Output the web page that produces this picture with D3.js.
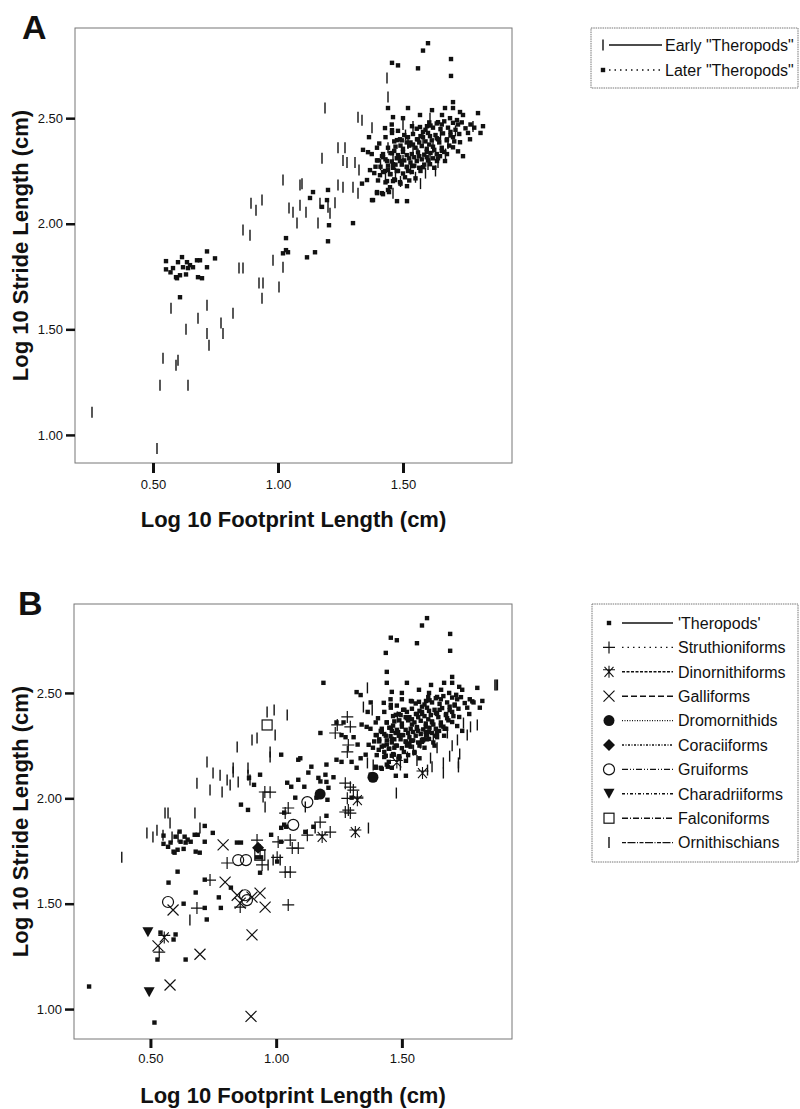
<!DOCTYPE html>
<html>
<head>
<meta charset="utf-8">
<script src="https://cdn.jsdelivr.net/npm/d3@7"></script>
<style>
  body { margin: 0; background: #fff; }
  text { font-family: "Liberation Sans", Arial, Helvetica, sans-serif; fill: #111; }
</style>
</head>
<body>
<div id="chart-area"></div>
<script>
// values: [log10 footprint length, log10 stride length]

let earlyTheropods = [
    [0.256,1.107],[0.516,0.936],[0.528,1.235],[0.64,1.235],[0.54,1.363],[0.592,1.33],[0.60,1.354],
    [0.572,1.60],[0.632,1.50],[0.716,1.614],[0.68,1.553],[0.716,1.48],[0.724,1.425],[0.772,1.53],
    [0.78,1.48],[0.82,1.576],[0.844,1.79],[0.86,1.79],[0.924,1.72],[0.94,1.72],[0.936,1.647],
    [0.98,1.827],[1.004,1.70],[1.02,1.794],[0.86,1.97],[0.888,1.945],[0.892,2.097],[0.912,2.064],
    [0.936,2.112],[1.044,2.074],[1.06,2.055],[1.076,2.003],[1.088,2.088],[1.112,2.055],[1.16,2.003],
    [1.168,2.097],[1.20,2.078],[1.208,2.05],[1.228,2.10],[1.24,2.183],[1.26,2.173],[1.30,2.173],
    [1.32,2.145],[1.02,2.207],[1.088,2.183],[1.188,2.548],[1.32,2.504],[1.336,2.49],[1.24,2.36],
    [1.268,2.36],[1.176,2.31],[1.096,2.19],[1.26,2.30],[1.276,2.29],[1.308,2.29],[1.324,2.255],
    [1.376,2.455],[1.436,2.69],[1.44,2.60],[1.50,2.47],[1.54,2.46],[1.608,2.50],[1.78,2.46],
    [1.608,2.315],[1.46,2.145],
    [1.50,2.30],[1.53,2.26],[1.56,2.33],[1.60,2.28],[1.62,2.36],[1.47,2.24],[1.44,2.36],[1.58,2.40],
    [1.65,2.42],[1.52,2.38],[1.49,2.20],[1.41,2.28],[1.55,2.22],[1.68,2.38],[1.57,2.19],[1.63,2.25],
    [1.46,2.32],[1.54,2.35],[1.59,2.24],[1.67,2.33],[1.43,2.22],[1.51,2.42],[1.71,2.44],[1.64,2.29]
];

let laterTheropods = [
    [1.456,2.762],[1.48,2.75],[1.56,2.736],[1.58,2.82],[1.60,2.855],[1.692,2.78],[1.692,2.70],
    [1.70,2.576],[1.80,2.524],[1.82,2.462],
    [0.552,1.823],[0.552,1.784],[0.58,1.79],[0.592,1.747],[0.60,1.818],[0.616,1.842],[0.62,1.794],
    [0.636,1.818],[0.648,1.804],[0.66,1.794],[0.676,1.827],[0.688,1.827],[0.68,1.747],[0.696,1.742],
    [0.716,1.794],[0.716,1.869],[0.748,1.836],[0.632,1.76],[0.608,1.756],[0.596,1.742],[0.608,1.652],
    [0.57,1.77],[0.64,1.79],
    [1.032,1.932],[1.04,1.865],[1.032,1.875],[1.02,1.86],[1.116,1.841],[1.148,1.865],[1.20,1.917],
    [1.204,1.993],[1.30,2.003],[1.376,2.112],[1.396,2.15],[1.44,2.16],[1.128,2.122],[1.14,2.15],
    [1.176,2.08],[1.20,2.16],[1.196,2.112],[1.356,2.207],[1.336,2.19],[1.368,2.254],[1.36,2.339],
    [1.364,2.41],[1.34,2.35],[1.396,2.36],[1.456,2.43],[1.476,2.396],[1.456,2.334],[1.42,2.315],
    [1.396,2.30],[1.408,2.23],[1.468,2.207],[1.448,2.173],[1.396,2.145],[1.38,2.112],[1.416,2.145],
    [1.44,2.548],[1.52,2.548],[1.46,2.505],[1.568,2.515],[1.616,2.538],[1.656,2.515],[1.668,2.548],
    [1.70,2.548],[1.728,2.529],[1.74,2.515],[1.716,2.491],[1.688,2.50],[1.64,2.481],[1.596,2.462],
    [1.568,2.458],[1.536,2.462],[1.50,2.50],[1.428,2.453],[1.456,2.443],[1.70,2.41],[1.728,2.386],
    [1.676,2.40],[1.64,2.40],[1.608,2.415],[1.58,2.41],[1.556,2.40],[1.52,2.41],[1.488,2.40],
    [1.768,2.40],[1.70,2.362],[1.72,2.343],[1.74,2.32],[1.676,2.33],[1.648,2.32],[1.636,2.297],
    [1.668,2.297],[1.608,2.282],[1.58,2.268],[1.54,2.273],[1.516,2.268],[1.488,2.297],[1.46,2.282],
    [1.436,2.297],[1.416,2.32],[1.428,2.25],[1.448,2.235],[1.48,2.25],[1.508,2.22],[1.516,2.178],
    [1.488,2.197],[1.46,2.202],[1.436,2.202],[1.42,2.14],[1.444,2.15],[1.476,2.107],[1.516,2.107],
    [1.40,2.205],[1.43,2.196],[1.465,2.21],[1.49,2.19],[1.525,2.205],[1.55,2.215],
    [1.385,2.24],[1.42,2.245],[1.45,2.235],[1.475,2.25],[1.50,2.238],[1.535,2.245],[1.57,2.25],
    [1.41,2.27],[1.44,2.275],[1.46,2.265],[1.495,2.28],[1.515,2.27],[1.545,2.275],[1.585,2.28],[1.625,2.265],
    [1.40,2.30],[1.43,2.305],[1.455,2.295],[1.475,2.31],[1.505,2.30],[1.525,2.31],[1.555,2.297],
    [1.575,2.305],[1.60,2.30],[1.64,2.31],
    [1.42,2.33],[1.45,2.335],[1.48,2.325],[1.50,2.34],[1.535,2.33],[1.56,2.338],[1.585,2.327],
    [1.61,2.335],[1.635,2.33],[1.665,2.34],
    [1.44,2.36],[1.47,2.365],[1.50,2.355],[1.525,2.37],[1.55,2.36],[1.575,2.368],[1.595,2.355],
    [1.62,2.365],[1.655,2.36],[1.685,2.37],
    [1.465,2.39],[1.495,2.395],[1.53,2.385],[1.56,2.40],[1.59,2.39],[1.615,2.395],[1.645,2.385],
    [1.675,2.395],[1.705,2.39],
    [1.505,2.42],[1.54,2.425],[1.57,2.415],[1.60,2.43],[1.63,2.42],[1.66,2.428],[1.69,2.418],[1.725,2.425],
    [1.555,2.45],[1.59,2.445],[1.62,2.455],[1.65,2.448],[1.68,2.455],[1.71,2.445],[1.75,2.452],
    [1.605,2.48],[1.635,2.475],[1.665,2.485],[1.70,2.478],[1.735,2.48],[1.77,2.47],
    [1.485,2.315],[1.515,2.325],[1.545,2.315],[1.565,2.32],[1.595,2.34],[1.625,2.35],[1.655,2.345],
    [1.465,2.345],[1.49,2.37],[1.515,2.385],[1.54,2.375],[1.565,2.385],[1.605,2.375],[1.635,2.405],
    [1.47,2.28],[1.53,2.29],[1.565,2.265],[1.595,2.315],[1.62,2.31],[1.52,2.25],[1.44,2.255],
    [1.58,2.435],[1.61,2.465],[1.69,2.435],[1.72,2.47],[1.76,2.43],[1.785,2.455],[1.655,2.47],
    [1.39,2.27],[1.375,2.33],[1.405,2.38],[1.43,2.41],[1.455,2.47],[1.48,2.44],[1.81,2.43]
];

let ornithischians = [
    [0.964,2.409],[0.992,2.419],[1.044,2.395],[0.924,2.286],[0.904,2.277],[0.845,2.244],[0.976,2.22],
    [0.996,2.30],[0.976,2.196],[0.725,2.172],[0.829,2.144],[0.888,2.144],[1.363,2.524],[1.347,2.433],
    [1.382,2.419],[1.482,2.386],[0.386,1.72],[0.486,1.835],[0.51,1.816],[0.526,1.849],[0.55,1.825],
    [0.558,1.93],[0.57,1.93],[0.578,1.883],[0.586,1.816],[0.61,1.816],[0.677,1.93],[0.685,2.072],
    [0.697,1.859],[0.737,2.039],[0.749,2.12],[0.777,2.11],[0.785,2.03],[0.805,2.087],[0.817,2.063],
    [0.829,2.125],[0.849,2.077],[0.888,2.11],[0.896,2.087],[0.948,2.006],[0.956,1.959],[0.968,1.684],
    [0.657,1.423],[1.367,1.859],[1.363,2.168],[1.386,2.158],[0.988,1.707],[1.016,1.707],[1.116,1.959],
    [1.155,1.859],[1.665,2.12],[1.725,2.168],[1.478,2.025],[1.870,2.538],[1.875,2.538],[1.880,2.538],
    [1.80,2.348],[1.773,2.339],[1.745,2.357],[1.721,2.277],[1.681,2.31],[1.725,2.149],[1.665,2.168],
    [1.614,2.191],[1.625,2.277],[1.574,2.262],[1.546,2.229],[1.522,2.196],[1.494,2.158],[1.602,2.134],
    [1.56,2.18],[1.64,2.24],[1.70,2.25],[1.76,2.30],[1.69,2.20],[1.59,2.29],[1.53,2.27],[1.62,2.15],[1.73,2.21]
];

let struthioniforms = [
    [1.283,2.386],[1.235,2.31],[1.243,2.348],[1.295,2.339],[1.287,2.253],[1.283,2.22],[0.976,2.029],
    [0.955,2.03],[1.048,1.954],[1.036,1.93],[1.056,1.802],[1.064,1.764],[1.088,1.764],[1.175,1.887],
    [1.215,1.84],[1.124,1.825],[1.008,1.793],[1.004,1.72],[1.036,1.65],[1.056,1.65],[1.048,1.494],
    [0.924,1.802],[0.936,1.755],[0.944,1.684],[0.805,1.693],[0.737,1.612],[0.685,1.479],[0.857,1.484],
    [0.535,1.27],[1.275,2.072],[1.295,2.053],[1.287,1.944],[1.275,1.935],[1.295,1.93],[1.283,2.0],
    [1.323,2.006],[1.307,2.039]
];
let dinornithiformes = [[0.555,1.34],[1.183,1.817],[1.315,1.84],[1.323,1.991],[1.582,2.12],[1.48,2.17]];
let galliforms = [
    [0.789,1.779],[0.59,1.47],[0.797,1.602],[0.845,1.54],[0.857,1.503],[0.904,1.352],[0.956,1.484],
    [0.936,1.55],[0.904,1.531],[0.53,1.30],[0.697,1.26],[0.578,1.114],[0.90,0.965]
];
let dromornithids = [[1.175,2.02],[1.385,2.10]];
let coraciiforms = [[0.928,1.765]];
let gruiforms = [[1.124,1.982],[1.068,1.874],[0.849,1.707],[0.88,1.707],[0.876,1.54],[0.884,1.517],[0.57,1.508]];
let charadriiforms = [[0.49,1.365],[0.495,1.08]];
let falconiformes = [[0.964,2.348],[0.935,1.73]];

let yTicks = [1.00, 1.50, 2.00, 2.50];
let xTicks = [0.50, 1.00, 1.50];

let legendA = ['Early "Theropods"', 'Later "Theropods"'];
let legendB = ["'Theropods'", "Struthioniforms", "Dinornithiforms", "Galliforms", "Dromornithids",
    "Coraciiforms", "Gruiforms", "Charadriiforms", "Falconiforms", "Ornithischians"];

// marker drawing
function drawMarker(g, type, x, y) {
    let ink = "#111";
    if (type === "bar") {
        g.append("line").attr("x1", x).attr("x2", x).attr("y1", y - 5.5).attr("y2", y + 5.5)
            .attr("stroke", ink).attr("stroke-width", 1.4);
    } else if (type === "square") {
        g.append("rect").attr("x", x - 2.2).attr("y", y - 2.2).attr("width", 4.4).attr("height", 4.4).attr("fill", ink);
    } else if (type === "plus") {
        g.append("path").attr("d", `M${x-6},${y}H${x+6}M${x},${y-6}V${y+6}`)
            .attr("stroke", ink).attr("stroke-width", 1.2).attr("fill", "none");
    } else if (type === "cross") {
        g.append("path").attr("d", `M${x-5.5},${y-5.5}L${x+5.5},${y+5.5}M${x-5.5},${y+5.5}L${x+5.5},${y-5.5}`)
            .attr("stroke", ink).attr("stroke-width", 1.2).attr("fill", "none");
    } else if (type === "star") {
        g.append("path").attr("d", `M${x-6},${y-2}H${x+6}M${x},${y-6}V${y+6}M${x-4.5},${y-5}L${x+4.5},${y+5}M${x-4.5},${y+5}L${x+4.5},${y-5}`)
            .attr("stroke", ink).attr("stroke-width", 1.1).attr("fill", "none");
    } else if (type === "dot") {
        g.append("circle").attr("cx", x).attr("cy", y).attr("r", 5.5).attr("fill", ink);
    } else if (type === "diamond") {
        g.append("path").attr("d", `M${x},${y-6}L${x+6},${y}L${x},${y+6}L${x-6},${y}Z`).attr("fill", ink);
    } else if (type === "ring") {
        g.append("circle").attr("cx", x).attr("cy", y).attr("r", 5.5)
            .attr("fill", "none").attr("stroke", ink).attr("stroke-width", 1.2);
    } else if (type === "triangle") {
        g.append("path").attr("d", `M${x-5.5},${y-5}L${x+5.5},${y-5}L${x},${y+5}Z`).attr("fill", ink);
    } else if (type === "box") {
        g.append("rect").attr("x", x - 5).attr("y", y - 5).attr("width", 10).attr("height", 10)
            .attr("fill", "none").attr("stroke", ink).attr("stroke-width", 1.2);
    }
}

let svg = d3.select("#chart-area").append("svg")
    .attr("width", 800)
    .attr("height", 1109);

function drawPanel(p) {
    let x = d3.scaleLinear().domain(p.xDomain).range([p.left, p.right]);
    let y = d3.scaleLinear().domain(p.yDomain).range([p.bottom, p.top]);
    let g = svg.append("g");

    // frame
    g.append("rect")
        .attr("x", p.left).attr("y", p.top)
        .attr("width", p.right - p.left).attr("height", p.bottom - p.top)
        .attr("fill", "none").attr("stroke", "#777").attr("stroke-width", 1);

    let yAxis = d3.axisLeft(y).tickValues(yTicks).tickFormat(d3.format(".2f")).tickSize(9).tickPadding(3);
    let xAxis = d3.axisBottom(x).tickValues(xTicks).tickFormat(d3.format(".2f")).tickSize(p.xTick).tickPadding(p.xPad);

    let ya = g.append("g").attr("transform", "translate(" + p.left + ",0)").call(yAxis);
    let xa = g.append("g").attr("transform", "translate(0," + p.bottom + ")").call(xAxis);
    [ya, xa].forEach(a => {
        a.select(".domain").remove();
        a.selectAll("text").attr("font-size", 13).attr("fill", "#222")
            .attr("font-family", '"Liberation Sans", Arial, sans-serif');
    });
    ya.selectAll(".tick line").attr("stroke", "#111").attr("stroke-width", 2.5);
    xa.selectAll(".tick line").attr("stroke", "#111").attr("stroke-width", 3);

    // titles
    g.append("text")
        .attr("x", (p.left + p.right) / 2).attr("y", p.bottom + 64)
        .attr("text-anchor", "middle").attr("font-size", 22).attr("font-weight", "bold")
        .text("Log 10 Footprint Length (cm)");
    g.append("text")
        .attr("transform", "translate(28," + (p.top + p.bottom) / 2 + ") rotate(-90)")
        .attr("text-anchor", "middle").attr("font-size", 22).attr("font-weight", "bold")
        .text("Log 10 Stride Length (cm)");
    g.append("text")
        .attr("x", p.labelX).attr("y", p.top + 11)
        .attr("font-size", 34).attr("font-weight", "bold")
        .text(p.label);

    // points
    let marks = g.append("g");
    p.series.forEach(s => {
        s.data.forEach(d => drawMarker(marks, s.marker, x(d[0]), y(d[1])));
    });

    // legend
    let lg = g.append("g");
    lg.append("rect")
        .attr("x", p.legend.x).attr("y", p.top)
        .attr("width", p.legend.w).attr("height", p.legend.h)
        .attr("fill", "none").attr("stroke", "#777").attr("stroke-width", 1)
        .attr("stroke-dasharray", "1.5,0.8");
    p.series.forEach((s, i) => {
        let ly = p.legend.y0 + i * p.legend.step;
        drawMarker(lg, s.marker, p.legend.mx, ly);
        lg.append("line")
            .attr("x1", p.legend.l1).attr("x2", p.legend.l2)
            .attr("y1", ly).attr("y2", ly)
            .attr("stroke", "#111").attr("stroke-width", 1.4)
            .attr("stroke-dasharray", s.dash);
        lg.append("text")
            .attr("x", p.legend.tx).attr("y", ly).attr("dy", "0.36em")
            .attr("font-size", 16)
            .text(s.name);
    });
}

drawPanel({
    label: "A", labelX: 22,
    left: 75, right: 512, top: 28, bottom: 463,
    xDomain: [0.188, 1.936], yDomain: [0.867, 2.927],
    xTick: 10, xPad: 7,
    series: [
        { name: legendA[0], marker: "bar", dash: null, data: earlyTheropods },
        { name: legendA[1], marker: "square", dash: "1.5,4", data: laterTheropods }
    ],
    legend: { x: 591, w: 207, h: 60, y0: 45, step: 25, mx: 603, l1: 609, l2: 662, tx: 665 }
});

drawPanel({
    label: "B", labelX: 18,
    left: 74, right: 512, top: 604, bottom: 1039,
    xDomain: [0.196, 1.938], yDomain: [0.858, 2.922],
    xTick: 9, xPad: 6,
    series: [
        { name: legendB[0], marker: "square", dash: null, data: earlyTheropods.concat(laterTheropods) },
        { name: legendB[1], marker: "plus", dash: "1.5,4", data: struthioniforms },
        { name: legendB[2], marker: "star", dash: "3,1.5", data: dinornithiformes },
        { name: legendB[3], marker: "cross", dash: "6,3", data: galliforms },
        { name: legendB[4], marker: "dot", dash: "1,1.5", data: dromornithids },
        { name: legendB[5], marker: "diamond", dash: "2,1.5,1,1.5", data: coraciiforms },
        { name: legendB[6], marker: "ring", dash: "6,2,1,2,1,2", data: gruiforms },
        { name: legendB[7], marker: "triangle", dash: "3,2,1,2", data: charadriiforms },
        { name: legendB[8], marker: "box", dash: "6,2,1,2", data: falconiformes },
        { name: legendB[9], marker: "bar", dash: "4,1.5,8,1.5,1,1.5", data: ornithischians }
    ],
    legend: { x: 592, w: 206, h: 258, y0: 623, step: 24.4, mx: 609, l1: 622, l2: 673, tx: 678 }
});
</script>
</body>
</html>
